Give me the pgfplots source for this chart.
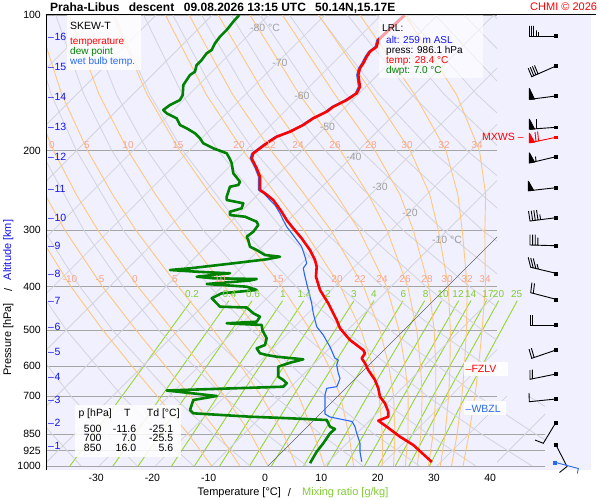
\documentclass[border=0pt]{standalone}
\usepackage{pgfplots}
\pgfplotsset{compat=1.18}
\usepackage{pgfplotstable}
\usepackage{fontspec}
\setmainfont{Liberation Sans}
\newcommand{\fs}[1]{\fontsize{#1}{#1}\selectfont}
\definecolor{bgl}{RGB}{240,240,255}
\definecolor{isob}{RGB}{165,165,165}
\definecolor{gridc}{RGB}{212,212,220}
\definecolor{moistc}{RGB}{255,200,125}
\definecolor{moistlab}{RGB}{250,165,135}
\definecolor{mixc}{RGB}{150,215,45}
\definecolor{mixlab}{RGB}{130,205,50}
\definecolor{tred}{RGB}{255,0,0}
\definecolor{dgreen}{RGB}{0,130,0}
\definecolor{wblue}{RGB}{40,105,240}
\definecolor{altblue}{RGB}{20,20,235}
\definecolor{isolab}{RGB}{160,160,160}
\pgfplotsset{/pgfplots/table/skew/.style={/pgfplots/table/x expr={\thisrow{T}+80.1*log10(1000/\thisrow{p})},/pgfplots/table/y expr={log10(1000/\thisrow{p})}}}
\pgfplotsset{gl/.style={gridc,line width=0.8pt},ml/.style={moistc,line width=0.9pt},xl/.style={mixc,line width=0.9pt},
 barb/.style={black,line width=0.9pt,mark=none}}

\pgfplotstableread{
p T
100 -55.77
113.61 -56.07
117.57 -55.17
120.61 -55.47
123.73 -55.17
127.97 -54.60
131.27 -54.30
135.84 -53.41
144.21 -51.03
149.15 -50.44
154.33 -51.03
159.71 -52.22
163.83 -52.50
166.62 -53.11
169.45 -53.71
175.34 -54.30
181.45 -55.47
186.14 -56.94
192.52 -57.55
202.61 -58.15
207.84 -57.55
218.73 -54.88
228.32 -52.81
244.36 -50.44
248.51 -48.97
257.16 -46.31
272.99 -42.74
284.81 -40.37
297.13 -37.73
312.71 -34.46
331.95 -30.91
349.34 -28.24
361.50 -26.75
380.42 -25.10
407.15 -22.02
435.76 -18.19
474.54 -13.73
495.08 -11.67
525.56 -7.82
553.09 -3.68
562.48 -2.79
577.02 -2.49
591.93 -1.01
612.52 0.76
644.63 3.73
672.53 5.79
702.00 7.58
726.06 9.64
757.89 11.72
777.48 12.61
793.52 11.55
818.21 14.10
861.09 18.24
898.35 22.08
980 28.4
}\tempdata

\pgfplotstableread{
p T
100 -56.04
113.61 -56.34
117.57 -55.44
120.61 -55.74
123.73 -55.44
127.97 -54.87
131.27 -54.57
135.84 -53.68
144.21 -51.30
149.15 -50.71
154.33 -51.30
159.71 -52.49
163.83 -52.77
166.62 -53.38
169.45 -53.98
175.34 -54.57
181.45 -55.74
186.14 -57.21
192.52 -57.82
202.61 -58.42
207.84 -57.82
218.73 -55.15
228.32 -53.08
244.36 -50.71
248.51 -49.24
263.81 -45.12
275.23 -42.75
284.81 -40.98
294.71 -39.18
304.82 -37.12
315.43 -35.04
326.41 -32.97
343.50 -30.60
355.28 -29.13
364.46 -28.85
380.42 -27.05
407.15 -24.10
435.76 -21.14
458.59 -19.08
491.06 -16.09
512.33 -13.45
543.85 -10.18
577.02 -7.23
582.05 -6.34
597.10 -5.74
622.95 -3.98
639.05 -2.79
655.58 -2.20
667.06 -1.88
672.53 -3.37
695.97 -2.49
732.39 -0.71
766.86 0.89
778.67 2.31
790.69 5.51
796.76 7.02
818.21 8.47
846.26 9.95
890.59 12.31
929.62 13.80
978.31 15.88
}\wetdata

\pgfplotstableread{
p T
100 -85.20
103.48 -85.08
107.96 -84.78
111.72 -84.78
115.55 -84.49
119.57 -83.89
121.60 -84.19
125.83 -83.89
129.08 -83.89
133.57 -83.00
135.84 -83.30
139.36 -83.00
142.96 -82.71
150.44 -81.04
154.33 -80.64
158.32 -81.53
162.42 -81.83
165.17 -80.64
169.45 -77.97
175.34 -76.20
178.33 -74.42
182.94 -72.06
187.67 -70.28
192.52 -68.81
197.50 -66.14
202.61 -62.87
208.91 -61.22
213.22 -60.21
224.39 -58.15
234.22 -55.47
238.20 -55.18
240.28 -56.36
252.86 -55.17
257.16 -54.58
261.53 -51.04
268.29 -50.44
272.99 -51.92
277.63 -51.33
280.05 -48.36
287.29 -45.40
292.17 -44.53
302.34 -44.22
310.16 -44.51
315.43 -43.64
326.41 -42.15
331.95 -40.37
340.54 -38.01
343.50 -35.04
348.09 -36.94
355.28 -42.16
364.46 -48.97
367.63 -52.22
370.84 -47.17
373.88 -40.97
380.42 -46.28
383.54 -43.05
384.91 -35.22
387.87 -36.14
394.87 -43.21
400.35 -35.63
407.15 -33.27
414.07 -38.90
424.77 -39.78
435.76 -38.01
443.39 -36.82
445.21 -31.93
458.59 -29.73
466.62 -27.94
478.68 -27.63
482.61 -32.68
486.81 -26.16
500 -25.10
521.02 -22.91
539.15 -22.02
548.31 -22.91
562.48 -21.44
567.38 -19.94
572.33 -17.87
579.98 -12.68
590.14 -14.44
602.31 -15.81
633.86 -14.03
644.63 -12.55
655.58 -11.36
667.06 -11.36
680.13 -31.40
699.50 -21.54
713.93 -24.99
751.33 -23.80
764.10 -22.63
777.48 -11.95
783.86 -4.56
790.69 2.26
818.21 4.03
827.88 5.33
846.26 5.21
890.59 5.79
929.62 6.11
975 6.80
986.1 7.00
}\dewdata

\begin{document}
\begin{tikzpicture}[x=1pt,y=1pt]
\path[use as bounding box] (0,0) rectangle (600,500);
\fill[white] (0,0) rectangle (600,500);
\fill[bgl] (47,30) rectangle (591,485);

% ---------- axis B: mixing ratio lines (may leave plot frame) ----------
\begin{axis}[at={(47pt,34pt)}, anchor=south west, scale only axis, width=544pt, height=451pt,
 xmin=-39.254, xmax=57.371, ymin=0, ymax=1, hide axis, clip=false]
\addplot[xl] table[skew,row sep=\\]{p T\\1000 -35.19\\700 -38.34\\430 -43.0\\};
\addplot[xl] table[skew,row sep=\\]{p T\\1000 -27.53\\700 -31.33\\430 -36.31\\};
\addplot[xl] table[skew,row sep=\\]{p T\\1000 -23.05\\700 -27.00\\430 -32.18\\};
\addplot[xl] table[skew,row sep=\\]{p T\\1000 -17.13\\700 -21.30\\430 -26.75\\};
\addplot[xl] table[skew,row sep=\\]{p T\\1000 -13.06\\700 -17.38\\430 -23.02\\};
\addplot[xl] table[skew,row sep=\\]{p T\\1000 -8.58\\700 -13.07\\430 -18.93\\};
\addplot[xl] table[skew,row sep=\\]{p T\\1000 -3.28\\700 -7.97\\430 -14.09\\};
\addplot[xl] table[skew,row sep=\\]{p T\\1000 0.61\\700 -4.23\\430 -10.54\\};
\addplot[xl] table[skew,row sep=\\]{p T\\1000 6.32\\700 1.25\\430 -5.35\\};
\addplot[xl] table[skew,row sep=\\]{p T\\1000 10.51\\700 5.27\\430 -1.54\\};
\addplot[xl] table[skew,row sep=\\]{p T\\1000 13.85\\700 8.48\\430 1.49\\};
\addplot[xl] table[skew,row sep=\\]{p T\\1000 17.14\\700 11.65\\430 4.51\\};
\addplot[xl] table[skew,row sep=\\]{p T\\1000 19.54\\700 13.95\\430 6.68\\};
\addplot[xl] table[skew,row sep=\\]{p T\\1000 22.61\\700 16.89\\430 9.46\\};
\addplot[xl] table[skew,row sep=\\]{p T\\1000 25.02\\700 19.19\\430 11.62\\};
\addplot[xl] table[skew,row sep=\\]{p T\\1000 28.67\\700 22.68\\430 14.92\\};
\addplot[isob,line width=0.8pt] coordinates {(40.6,0.07058) (49.2,0.07058)};
\addplot[isob,line width=0.8pt] coordinates {(40.6,0.03386) (49.2,0.03386)};
\addplot[isob,line width=0.8pt] coordinates {(40.6,0) (49.2,0)};
\end{axis}

% ---------- axis D: lower-right grid extension ----------
\begin{axis}[at={(497pt,34pt)}, anchor=south west, scale only axis, width=48pt, height=69.86pt,
 xmin=40.675, xmax=49.2, ymin=0, ymax=0.1549, hide axis]
\addplot[gl] table[skew,row sep=\\]{p T\\1000 30\\100 30\\};
\addplot[gl] table[skew,row sep=\\]{p T\\1000 40\\100 40\\};
\addplot[gl] table[skew,row sep=\\]{p T\\1000 46.9\\850 32.3\\700 15.9\\};
\addplot[gl] table[skew,row sep=\\]{p T\\1000 56.9\\850 41.9\\700 24.9\\};
\addplot[gl] table[skew,row sep=\\]{p T\\1000 66.9\\850 51.4\\700 33.9\\};
\end{axis}

% ---------- axis A: the skew-T diagram ----------
\begin{axis}[at={(47pt,34pt)}, anchor=south west, scale only axis, width=450pt, height=451pt,
 xmin=-39.254, xmax=40.675, ymin=0, ymax=1,
 axis line style={draw=none}, major tick length=0pt, minor tick length=0pt,
 xtick={-30,-20,-10,0,10,20,30,40}, xticklabels={-30,-20,-10,0,10,20,30,40},
 ytick={0,0.03386,0.07058,0.15490,0.22185,0.30103,0.39794,0.52288,0.69897,1},
 yticklabels={1000,925,850,700,600,500,400,300,200,100},
 ymajorgrids, major grid style={isob,line width=0.8pt},
 xticklabel style={font=\fs{10.5}, anchor=center, inner sep=0pt, yshift=-12pt, xshift=-3pt},
 yticklabel style={font=\fs{10.5}, anchor=east, inner sep=0pt, xshift=-6pt}]
% isotherms
\addplot[gl] table[skew,row sep=\\]{p T\\1000 -110\\100 -110\\};
\addplot[gl] table[skew,row sep=\\]{p T\\1000 -100\\100 -100\\};
\addplot[gl] table[skew,row sep=\\]{p T\\1000 -90\\100 -90\\};
\addplot[gl] table[skew,row sep=\\]{p T\\1000 -80\\100 -80\\};
\addplot[gl] table[skew,row sep=\\]{p T\\1000 -70\\100 -70\\};
\addplot[gl] table[skew,row sep=\\]{p T\\1000 -60\\100 -60\\};
\addplot[gl] table[skew,row sep=\\]{p T\\1000 -50\\100 -50\\};
\addplot[gl] table[skew,row sep=\\]{p T\\1000 -40\\100 -40\\};
\addplot[gl] table[skew,row sep=\\]{p T\\1000 -30\\100 -30\\};
\addplot[gl] table[skew,row sep=\\]{p T\\1000 -20\\100 -20\\};
\addplot[gl] table[skew,row sep=\\]{p T\\1000 -10\\100 -10\\};
\addplot[gl] table[skew,row sep=\\]{p T\\1000 10\\100 10\\};
\addplot[gl] table[skew,row sep=\\]{p T\\1000 20\\100 20\\};
\addplot[gl] table[skew,row sep=\\]{p T\\1000 30\\100 30\\};
% dry adiabats
\addplot[gl] table[skew,row sep=\\]{p T\\1000 -33.2\\850 -44.0\\700 -56.4\\500 -76.3\\400 -88.4\\};
\addplot[gl] table[skew,row sep=\\]{p T\\1000 -23.2\\850 -34.5\\700 -47.4\\500 -68.1\\400 -80.7\\300 -95.9\\};
\addplot[gl] table[skew,row sep=\\]{p T\\1000 -13.2\\850 -25.0\\700 -38.3\\500 -59.9\\400 -73.0\\300 -88.8\\200 -109.0\\};
\addplot[gl] table[skew,row sep=\\]{p T\\1000 -3.2\\850 -15.4\\700 -29.3\\500 -51.7\\400 -65.3\\300 -81.7\\200 -102.7\\150 -116.1\\};
\addplot[gl] table[skew,row sep=\\]{p T\\1000 6.9\\850 -5.9\\700 -20.3\\500 -43.5\\400 -57.6\\300 -74.6\\200 -96.4\\150 -110.3\\100 -128.1\\};
\addplot[gl] table[skew,row sep=\\]{p T\\1000 16.9\\850 3.7\\700 -11.3\\500 -35.3\\400 -49.9\\300 -67.6\\200 -90.0\\150 -104.5\\100 -122.9\\};
\addplot[gl] table[skew,row sep=\\]{p T\\1000 26.9\\850 13.2\\700 -2.2\\500 -27.0\\400 -42.2\\300 -60.5\\200 -83.7\\150 -98.7\\100 -117.8\\};
\addplot[gl] table[skew,row sep=\\]{p T\\1000 36.9\\850 22.8\\700 6.8\\500 -18.8\\400 -34.5\\300 -53.4\\200 -77.4\\150 -92.9\\100 -112.6\\};
\addplot[gl] table[skew,row sep=\\]{p T\\1000 46.9\\850 32.3\\700 15.9\\500 -10.6\\400 -26.9\\300 -46.3\\200 -71.1\\150 -87.0\\100 -107.4\\};
\addplot[gl] table[skew,row sep=\\]{p T\\1000 56.9\\850 41.9\\700 24.9\\500 -2.4\\400 -19.2\\300 -39.2\\200 -64.8\\150 -81.2\\100 -102.2\\};
\addplot[gl] table[skew,row sep=\\]{p T\\1000 66.9\\850 51.4\\700 33.9\\500 5.8\\400 -11.5\\300 -32.1\\200 -58.5\\150 -75.4\\100 -97.0\\};
\addplot[gl] table[skew,row sep=\\]{p T\\850 61.0\\700 42.9\\500 14.0\\400 -3.8\\300 -25.0\\200 -52.2\\150 -69.6\\100 -91.9\\};
\addplot[gl] table[skew,row sep=\\]{p T\\700 52.0\\500 22.2\\400 3.9\\300 -17.9\\200 -45.8\\150 -63.8\\100 -86.7\\};
\addplot[gl] table[skew,row sep=\\]{p T\\500 30.4\\400 11.6\\300 -10.8\\200 -39.5\\150 -58.0\\100 -81.5\\};
\addplot[gl] table[skew,row sep=\\]{p T\\500 38.6\\400 19.3\\300 -3.8\\200 -33.2\\150 -52.1\\100 -76.3\\};
\addplot[gl] table[skew,row sep=\\]{p T\\400 27.0\\300 3.3\\200 -26.9\\150 -46.3\\100 -71.2\\};
\addplot[gl] table[skew,row sep=\\]{p T\\400 34.7\\300 10.4\\200 -20.6\\150 -40.5\\100 -66.0\\};
\addplot[gl] table[skew,row sep=\\]{p T\\300 17.5\\200 -14.3\\150 -34.7\\100 -60.8\\};
\addplot[gl] table[skew,row sep=\\]{p T\\300 24.6\\200 -8.0\\150 -28.9\\100 -55.6\\};
\addplot[gl] table[skew,row sep=\\]{p T\\300 31.7\\200 -1.6\\150 -23.1\\100 -50.4\\};
\addplot[gl] table[skew,row sep=\\]{p T\\200 4.7\\150 -17.3\\100 -45.3\\};
\addplot[gl] table[skew,row sep=\\]{p T\\200 11.0\\150 -11.4\\100 -40.1\\};
% moist adiabats
\addplot[ml] table[skew,row sep=\\]{p T\\1000 -10\\850 -19.8\\700 -32.1\\600 -41.96\\500 -53.42\\400 -66.89\\300 -83.1\\};
\addplot[ml] table[skew,row sep=\\]{p T\\1000 -5\\850 -14.35\\700 -26.2\\600 -36.0\\500 -47.54\\400 -61.28\\300 -77.96\\250 -87.84\\200 -99.29\\};
\addplot[ml] table[skew,row sep=\\]{p T\\1000 0\\850 -8.7\\700 -20.1\\600 -29.55\\500 -41.04\\400 -55.0\\300 -72.1\\250 -82.28\\200 -94.07\\150 -108.2\\};
\addplot[ml] table[skew,row sep=\\]{p T\\1000 5\\850 -2.9\\700 -13.6\\600 -22.6\\500 -33.81\\400 -47.82\\300 -65.34\\250 -75.84\\200 -88.01\\150 -102.62\\100 -121.3\\};
\addplot[ml] table[skew,row sep=\\]{p T\\1000 10\\850 2.5\\700 -6.95\\600 -15.27\\500 -25.85\\400 -39.58\\300 -57.37\\250 -68.21\\200 -80.83\\150 -96.0\\100 -115.4\\};
\addplot[ml] table[skew,row sep=\\]{p T\\1000 15.2\\850 8.7\\700 0.45\\600 -6.99\\500 -16.55\\400 -29.44\\300 -47.08\\250 -58.42\\200 -71.65\\150 -87.47\\100 -107.7\\};
\addplot[ml] table[skew,row sep=\\]{p T\\1000 20.3\\850 14.65\\700 7.34\\600 0.79\\500 -7.58\\400 -19.02\\300 -35.53\\250 -46.78\\200 -60.40\\150 -76.97\\100 -98.33\\};
\addplot[ml] table[skew,row sep=\\]{p T\\1000 22.3\\850 16.9\\700 9.9\\600 3.68\\500 -4.22\\400 -14.9\\300 -30.71\\250 -41.75\\200 -55.39\\150 -72.29\\100 -94.12\\};
\addplot[ml] table[skew,row sep=\\]{p T\\1000 24.4\\850 19.2\\700 12.5\\600 6.59\\500 -0.84\\400 -10.81\\300 -25.7\\250 -36.1\\200 -49.44\\150 -66.59\\100 -88.95\\};
\addplot[ml] table[skew,row sep=\\]{p T\\1000 26.5\\850 21.5\\700 14.97\\600 9.33\\500 2.32\\400 -7.05\\300 -20.75\\250 -30.4\\200 -43.10\\150 -60.41\\100 -83.32\\};
\addplot[ml] table[skew,row sep=\\]{p T\\1000 28.5\\850 23.67\\700 17.4\\600 12.02\\500 5.41\\400 -3.3\\300 -16.07\\250 -24.8\\200 -36.97\\150 -54.12\\100 -77.54\\};
\addplot[ml] table[skew,row sep=\\]{p T\\1000 30.6\\850 25.8\\700 19.68\\600 14.55\\500 8.28\\400 0.14\\300 -11.63\\250 -19.49\\200 -30.72\\150 -47.31\\100 -71.1\\};
\addplot[ml] table[skew,row sep=\\]{p T\\1000 32.6\\850 27.93\\700 22.03\\600 17.12\\500 11.14\\400 3.51\\300 -7.38\\250 -14.52\\200 -24.36\\150 -39.95\\100 -63.77\\};
\addplot[ml] table[skew,row sep=\\]{p T\\1000 34.65\\850 30.03\\700 24.35\\600 19.63\\500 13.91\\400 6.73\\300 -3.36\\250 -9.57\\200 -18.42\\150 -32.52\\100 -55.75\\};
% 0 degC isotherm
\addplot[black!60,line width=0.6pt] table[skew,row sep=\\]{p T\\1000 0\\100 0\\};
% profiles
\addplot[wblue,line width=1.1pt,line join=round] table[skew]{\wetdata};
\addplot[dgreen,line width=2.6pt,line join=round] table[skew]{\dewdata};
\addplot[tred,line width=2.6pt,line join=round] table[skew]{\tempdata};
\end{axis}

% ---------- axis C: wind barbs (picture pixels) ----------
\begin{axis}[at={(0pt,0pt)}, anchor=south west, scale only axis, width=600pt, height=500pt,
 xmin=0, xmax=600, ymin=0, ymax=500, y dir=reverse, hide axis, clip=false]
\addplot[barb] coordinates {(556,36) (529.3,36) (529.3,26) (529.3,36) (531.6,36) (531.6,26) (531.6,36) (533.9,36) (533.9,26) (533.9,36) (536.2,36) (536.2,30.5) (536.2,36) (538.5,36) (538.5,32)};
\addplot[barb] coordinates {(556,66) (531.7,76.7) (528.2,68.2) (531.7,76.7) (533.8,75.8) (530.3,67.3) (533.8,75.8) (535.9,74.8) (532.4,66.3) (535.9,74.8) (538.0,73.9) (534.5,65.4)};
\addplot[barb] coordinates {(556,96) (530,99.3)};
\addplot[barb,fill=black] coordinates {(529.3,88.3) (529.3,99.3) (534.5,99.2) (529.3,88.3)};
\addplot[barb] coordinates {(556,127.3) (530,129.2)};
\addplot[barb,fill=black] coordinates {(529.3,119) (529.3,129.2) (534.5,129) (529.3,119)};
\addplot[barb] coordinates {(536,128.8) (536,119)};
\addplot[barb,tred] coordinates {(556,137.3) (530,142.7)};
\addplot[barb,tred,fill=tred] coordinates {(529.3,133) (529.3,142.7) (534.5,142.2) (529.3,133)};
\addplot[barb,tred] coordinates {(536,141.6) (535,132)};
\addplot[barb,tred] coordinates {(538.6,141.1) (537.6,131.5)};
\addplot[barb] coordinates {(556,156.7) (530.7,162.7)};
\addplot[barb,fill=black] coordinates {(529.3,152.7) (529.3,163) (534.5,162) (529.3,152.7)};
\addplot[barb] coordinates {(536,161.5) (535.5,156.5)};
\addplot[barb] coordinates {(556,187.7) (529.3,190.7)};
\addplot[barb,fill=black] coordinates {(528.3,181) (528.3,190.8) (533.5,190.2) (528.3,181)};
\addplot[barb] coordinates {(556,217.7) (530,221) (528.5,211) (530,221) (532.7,220.7) (531.2,210.7) (532.7,220.7) (535.3,220.3) (533.8,210.3) (535.3,220.3) (538,220) (536.5,210) (538,220) (540.6,219.7) (539.8,214.5)};
\addplot[barb] coordinates {(556,245.7) (530,245) (530,234.5) (530,245) (532.6,245.1) (532.6,234.6) (532.6,245.1) (535.2,245.2) (535.2,234.7) (535.2,245.2) (537.8,245.3) (537.8,237.5)};
\addplot[barb] coordinates {(556,273.3) (530.7,267.3) (528.2,257.3) (530.7,267.3) (533.2,267.9) (530.7,257.9) (533.2,267.9) (535.8,268.5) (533.3,258.5) (535.8,268.5) (538.3,269.1) (537.1,264.1)};
\addplot[barb] coordinates {(556,299.3) (530.7,292.7) (531.9,282.7) (530.7,292.7) (533.3,293.4) (534.5,283.4)};
\addplot[barb] coordinates {(556,325) (530,325) (530,315) (530,325) (532.7,325) (532.7,315)};
\addplot[barb] coordinates {(556,350) (531.7,358.3) (529,349) (531.7,358.3) (534.1,357.5) (531.4,348.2)};
\addplot[barb] coordinates {(556,374) (530,379.3) (530,370) (530,379.3) (532.4,378.8) (532.4,369.5)};
\addplot[barb] coordinates {(556,399) (529.3,401.7) (529,393)};
\addplot[barb] coordinates {(556,422.3) (543.3,443.3) (535,440)};
\addplot[barb] coordinates {(556,445) (567,466.5) (559.5,472.5)};
\addplot[barb,wblue] coordinates {(555,462.3) (578.3,468.5) (577.3,473.5)};
\addplot[only marks,mark=square*,mark size=1.4pt,black] coordinates {(556,36) (556,66) (556,96) (556,127.3) (556,156.7) (556,187.7) (556,217.7) (556,245.7) (556,273.3) (556,299.3) (556,325) (556,350) (556,374) (556,399) (556,422.3) (556,445)};
\addplot[only marks,mark=square*,mark size=1.4pt,tred] coordinates {(556,137.3)};
\addplot[only marks,mark=square*,mark size=1.4pt,wblue] coordinates {(555,462.3)};
\end{axis}

\begin{scope}[shift={(0,500)},yscale=-1]
% ---------- frame ----------
\draw[black,line width=1pt] (46,15) -- (596,15);
\draw[black,line width=1pt] (46.5,15) -- (46.5,470);

% ---------- labels on the diagram ----------
\begin{scope}[every node/.style={inner sep=0pt,font=\fs{10}}]
\foreach \xx/\tt in {52/0,87/5,128/10,178/15,239/20,270/22,298/24,335/26,371/28,407/30,444/32,477/34}
  \node[text=moistlab] at (\xx,145) {\tt};
\foreach \xx/\tt in {70/-10,100/-5,135/0,175/5,220/10,278/15,337/20,360/22,382/24,405/26,427/28,447/30,467/32,485/34}
  \node[text=moistlab] at (\xx,279.5) {\tt};
\foreach \xx/\tt in {192/0.2,229.5/0.4,253/0.6,283/1,304.5/1.4,328/2,354/3,374/4,403.3/6,425.7/8,443/10,458/12,470.7/14,488/17,498.5/20,516.7/25}
  \node[text=mixlab] at (\xx,294) {\tt};
\node[text=isolab,font=\fs{10.5}] at (265,27.5) {-80 °C};
\node[text=isolab,font=\fs{10.5}] at (280,62.5) {-70};
\node[text=isolab,font=\fs{10.5}] at (302,95.5) {-60};
\node[text=isolab,font=\fs{10.5}] at (327.5,126.5) {-50};
\node[text=isolab,font=\fs{10.5}] at (354,156.5) {-40};
\node[text=isolab,font=\fs{10.5}] at (380,186.5) {-30};
\node[text=isolab,font=\fs{10.5}] at (410,213) {-20};
\node[text=isolab,font=\fs{10.5}] at (447,240) {-10 °C};
\foreach \yy/\tt in {445.7/1,423.3/2,400/3,376.5/4,351.7/5,326.5/6,300.5/7,273.5/8,245.5/9,217.5/10,188.5/11,157/12,127/13,96.5/14,66.7/15,37.3/16}
  \node[text=altblue,anchor=west,font=\fs{10.5}] at (47.8,\yy) {–\kern0.8pt\tt};
\end{scope}

% ---------- boxes ----------
\fill[white,opacity=0.8] (67,15.5) rectangle (141,70);
\fill[white,opacity=0.62] (379,15.5) rectangle (483,78);
\fill[white,opacity=0.85] (75,405) rectangle (181,457);
\fill[white,opacity=0.9] (464,362) rectangle (508,376);
\fill[white,opacity=0.9] (464,401.5) rectangle (506,415.5);

\begin{scope}[every node/.style={inner sep=0pt}]
% title
\node[anchor=base west,font=\bfseries\fs{12}] at (50,11.7) {Praha-Libus};
\node[anchor=base west,font=\bfseries\fs{12}] at (128.7,11.7) {descent};
\node[anchor=base west,font=\bfseries\fs{12}] at (183.7,11.7) {09.08.2026 13:15 UTC};
\node[anchor=base west,font=\bfseries\fs{12}] at (315,11.7) {50.14N,15.17E};
\node[anchor=base west,font=\fs{11},text=tred] at (530,11) {CHMI © 2026};
% legend
\node[anchor=base west,font=\fs{10.5}] at (70,30) {SKEW-T};
\node[anchor=base west,font=\fs{10},text=tred] at (70,45) {temperature};
\node[anchor=base west,font=\fs{10},text=dgreen] at (70,54.8) {dew point};
\node[anchor=base west,font=\fs{10},text=wblue] at (70,64.6) {wet bulb temp.};
% LRL box
\node[anchor=base west,font=\fs{10}] at (382,31.3) {LRL:};
\node[anchor=base west,font=\fs{10},text=altblue] at (386,43.5) {alt: 259 m ASL};
\node[anchor=base west,font=\fs{10}] at (386,53.5) {press: 986.1 hPa};
\node[anchor=base west,font=\fs{10},text=tred] at (386,63.7) {temp: 28.4 °C};
\node[anchor=base west,font=\fs{10},text=dgreen] at (386,73.5) {dwpt: 7.0 °C};
% table
\node[anchor=base west,font=\fs{10.5}] at (78.3,417) {p [hPa]};
\node[anchor=base,font=\fs{10.5}] at (127.3,417) {T};
\node[anchor=base west,font=\fs{10.5}] at (146.7,417) {Td [°C]};
\node[anchor=base east,font=\fs{10.5}] at (101.7,432.5) {500};
\node[anchor=base east,font=\fs{10.5}] at (136.3,432.5) {-11.6};
\node[anchor=base east,font=\fs{10.5}] at (173.3,432.5) {-25.1};
\node[anchor=base east,font=\fs{10.5}] at (101.7,442) {700};
\node[anchor=base east,font=\fs{10.5}] at (136.3,442) {7.0};
\node[anchor=base east,font=\fs{10.5}] at (173.3,442) {-25.5};
\node[anchor=base east,font=\fs{10.5}] at (101.7,451.8) {850};
\node[anchor=base east,font=\fs{10.5}] at (136.3,451.8) {16.0};
\node[anchor=base east,font=\fs{10.5}] at (173.3,451.8) {5.6};
% levels
\node[anchor=west,font=\fs{10.5},text=tred] at (465.5,369) {–FZLV};
\node[anchor=west,font=\fs{10.5},text=wblue] at (465.5,408.5) {–WBZL};
\node[anchor=west,font=\fs{10.5},text=tred] at (482,137.3) {MXWS –};
% axis titles
\node[anchor=west,font=\fs{11}] at (197.5,493) {Temperature [°C]};
\node[font=\fs{11}] at (289.5,493) {/};
\node[anchor=west,font=\fs{11},text=mixlab] at (302,493) {Mixing ratio [g/kg]};
\node[anchor=west,rotate=90,font=\fs{11}] at (8.3,376) {Pressure [hPa]};
\node[rotate=90,font=\fs{11}] at (8.3,290) {/};
\node[anchor=west,rotate=90,font=\fs{11},text=altblue] at (8.3,280.5) {Altitude [km]};
\end{scope}
\end{scope}
\end{tikzpicture}
\end{document}
